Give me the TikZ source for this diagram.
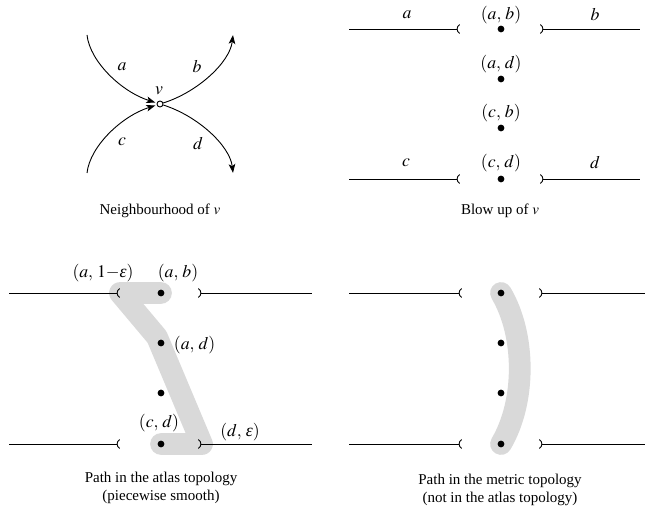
\documentclass[tikz,border=0pt]{standalone}
\usepackage{mathptmx}
\usepackage{fontspec}
\setmainfont{Liberation Serif}
\usetikzlibrary{arrows, arrows.meta}
\definecolor{bandgray}{RGB}{217,217,217}
\newcommand{\eps}{\mbox{\itshape ε}}
\tikzset{
  pt/.style={circle, fill, inner sep=0pt, minimum size=4.5pt},
  vtx/.style={circle, draw, fill=white, inner sep=0pt, minimum size=4pt},
  band/.style={bandgray, line width=14.5pt, line cap=round, line join=round},
  lbl/.style={inner sep=1pt, font=\fontsize{11.8}{14}\selectfont},
  captext/.style={align=center, inner sep=0pt}
}
\begin{document}
\begin{tikzpicture}[x=0.6667pt, y=-0.6667pt, >={Stealth[length=6pt, width=4.4pt, inset=1.5pt]}, semithick]
  \useasboundingbox (0,0) rectangle (645,516);

  % neighbourhood of v
  \node[vtx] (v) at (160,104) {};
  \coordinate (a0) at (87,35);
  \coordinate (b1) at (233,35);
  \coordinate (c0) at (87,173);
  \coordinate (d1) at (233,173);
  \draw[->, shorten >=1pt] (a0) .. controls (90,62) and (122,92) .. (v);
  \draw[->, shorten >=1pt] (c0) .. controls (90,146) and (122,116) .. (v);
  \draw[->] (v) .. controls (198,92) and (230,62) .. (b1);
  \draw[->] (v) .. controls (198,116) and (230,146) .. (d1);
  \node[lbl] (la) at (122,67) {$a$};
  \node[lbl] (lb) at (197,67) {$b$};
  \node[lbl] (lc) at (122,142) {$c$};
  \node[lbl] (ld) at (198,144) {$d$};
  \node[lbl] (lv) at (159,91) {$v$};
  \node[captext] (cap1) at (160,211) {Neighbourhood of $v$};

  % blow up of v
  \coordinate (ta0) at (349,29);
  \coordinate (ta1) at (460,29);
  \coordinate (tb0) at (540,29);
  \coordinate (tb1) at (640,29);
  \coordinate (tc0) at (349,179);
  \coordinate (tc1) at (460,179);
  \coordinate (td0) at (540,179);
  \coordinate (td1) at (640,179);
  \draw[-(] (ta0) -- (ta1);
  \draw[)-] (tb0) -- (tb1);
  \draw[-(] (tc0) -- (tc1);
  \draw[)-] (td0) -- (td1);
  \node[pt] (tab) at (501,29) {};
  \node[pt] (tad) at (501,79) {};
  \node[pt] (tcb) at (501,128) {};
  \node[pt] (tcd) at (501,179) {};
  \node[lbl] (ltab) at (501,15) {$(a,\,b)$};
  \node[lbl] (ltad) at (501,64) {$(a,\,d)$};
  \node[lbl] (ltcb) at (501,113) {$(c,\,b)$};
  \node[lbl] (ltcd) at (501,163) {$(c,\,d)$};
  \node[lbl] (lta) at (407,15) {$a$};
  \node[lbl] (ltb) at (595,15) {$b$};
  \node[lbl] (ltc) at (406,163) {$c$};
  \node[lbl] (ltd) at (595,163) {$d$};
  \node[captext] (cap2) at (500,211) {Blow up of $v$};

  % path in the atlas topology
  \coordinate (pa0) at (9,293);
  \coordinate (pa1) at (120,293);
  \coordinate (pb0) at (198,293);
  \coordinate (pb1) at (312,293);
  \coordinate (pc0) at (9,444);
  \coordinate (pc1) at (120,444);
  \coordinate (pd0) at (198,444);
  \coordinate (pd1) at (312,444);
  \coordinate (pbend) at (157,337);
  \draw[band] (161,293) -- (pa1) -- (pbend) -- (202,444) -- (161,444);
  \draw[-(] (pa0) -- (pa1);
  \draw[)-] (pb0) -- (pb1);
  \draw[-(] (pc0) -- (pc1);
  \draw[)-] (pd0) -- (pd1);
  \node[pt] (pab) at (161,293) {};
  \node[pt] (pad) at (161,343) {};
  \node[pt] (pcb) at (161,393) {};
  \node[pt] (pcd) at (161,444) {};
  \node[lbl] (lpae) at (103,273) {$(a,\,1{-}\eps)$};
  \node[lbl] (lpab) at (178,273) {$(a,\,b)$};
  \node[lbl, anchor=west] (lpad) at (172,345) {$(a,\,d)$};
  \node[lbl] (lpcd) at (159,423) {$(c,\,d)$};
  \node[lbl] (lpde) at (240,432) {$(d,\,\eps)$};
  \node[captext] (cap3) at (161,488) {Path in the atlas topology\\(piecewise smooth)};

  % path in the metric topology
  \coordinate (qa0) at (349,293);
  \coordinate (qa1) at (462,293);
  \coordinate (qb0) at (539,293);
  \coordinate (qb1) at (645,293);
  \coordinate (qc0) at (349,444);
  \coordinate (qc1) at (462,444);
  \coordinate (qd0) at (539,444);
  \coordinate (qd1) at (645,444);
  \draw[band] (501,293) .. controls (526,335) and (526,402) .. (501,444);
  \draw[-(] (qa0) -- (qa1);
  \draw[)-] (qb0) -- (qb1);
  \draw[-(] (qc0) -- (qc1);
  \draw[)-] (qd0) -- (qd1);
  \node[pt] (qab) at (501,293) {};
  \node[pt] (qad) at (501,343) {};
  \node[pt] (qcb) at (501,393) {};
  \node[pt] (qcd) at (501,444) {};
  \node[captext] (cap4) at (500,490) {Path in the metric topology\\(not in the atlas topology)};
\end{tikzpicture}
\end{document}
